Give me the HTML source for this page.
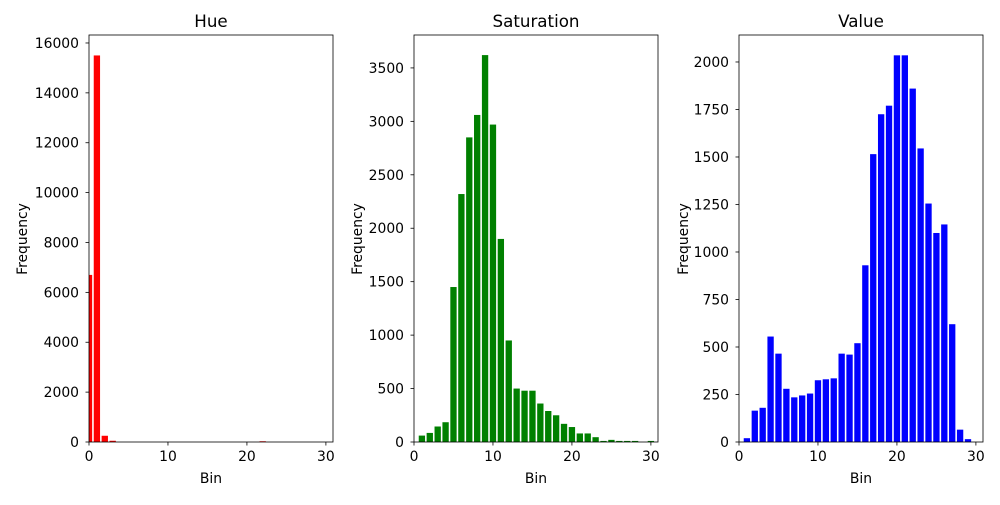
<!DOCTYPE html>
<html><head><meta charset="utf-8"><style>
body{margin:0;background:#fff;}
svg{font-family:"DejaVu Sans","Liberation Sans",sans-serif;}
</style></head><body>
<svg id="c" width="1000" height="500"></svg>
<script>
const bins = Array.from({length:31},(_,i)=>i);
const hueValues = [6700,15500,250,50,0,0,0,0,0,0,0,0,0,0,0,0,0,0,0,0,0,0,30,0,0,0,0,0,0,0,0];
const satValues = [0,60,85,145,185,1450,2320,2850,3060,3620,2970,1900,950,500,480,480,360,290,250,170,140,80,80,45,10,20,10,10,10,0,10];
const valValues = [0,20,165,180,555,465,280,235,245,255,325,330,335,465,460,520,930,1515,1725,1770,2035,2035,1860,1545,1255,1100,1145,620,65,15,0];
const hueTicks = [0,2000,4000,6000,8000,10000,12000,14000,16000];
const satTicks = [0,500,1000,1500,2000,2500,3000,3500];
const valTicks = [0,250,500,750,1000,1250,1500,1750,2000];
const xTicks = [0,10,20,30];
const panels = [
 {name:'hue',title:'Hue',vals:hueValues,ticks:hueTicks,ymax:16320,color:'#ff0000',left:89,ylab:62},
 {name:'saturation',title:'Saturation',vals:satValues,ticks:satTicks,ymax:3808,color:'#008000',left:414,ylab:52},
 {name:'value',title:'Value',vals:valValues,ticks:valTicks,ymax:2142,color:'#0000ff',left:739,ylab:51}
];
const NS='http://www.w3.org/2000/svg', svgEl=document.getElementById('c');
function mk(t,a,p){const e=document.createElementNS(NS,t);for(const k in a)e.setAttribute(k,a[k]);(p||svgEl).appendChild(e);return e;}
const topY=35,bottomY=442,W=244,xmax=30.9;
panels.forEach(p=>{
 const g=mk('g',{});
 
 
 const cp=mk('clipPath',{id:'cp'+p.name},g);mk('rect',{x:p.left,y:topY,width:W,height:bottomY-topY},cp);
 const xs=v=>p.left+v/xmax*W, ys=v=>bottomY-v/p.ymax*(bottomY-topY);
 const bg=mk('g',{'clip-path':'url(#cp'+p.name+')'},g);
 bins.forEach((b,i)=>{const v=p.vals[i];if(!v)return;
  const r=mk('rect',{x:xs(b-0.4),y:ys(v),width:xs(0.8)-xs(0),height:bottomY-ys(v),fill:p.color},bg);
  
  
 });
 const fr=mk('rect',{x:p.left,y:topY,width:W,height:bottomY-topY,fill:'none',stroke:'#000','stroke-width':0.8},g);
 
 
 xTicks.forEach(t=>{const x=xs(t);mk('line',{x1:x,x2:x,y1:bottomY,y2:bottomY+3.5,stroke:'#000','stroke-width':0.8},g);
  const tx=mk('text',{x:x,y:bottomY+19,'font-size':13.9,'text-anchor':'middle'},g);tx.textContent=t;
  
  });
 p.ticks.forEach(t=>{const y=ys(t);mk('line',{x1:p.left-3.5,x2:p.left,y1:y,y2:y,stroke:'#000','stroke-width':0.8},g);
  const tx=mk('text',{x:p.left-10,y:y+5,'font-size':13.9,'text-anchor':'end'},g);tx.textContent=t;
  
  });
 const ti=mk('text',{x:p.left+W/2,y:27,'font-size':16.7,'text-anchor':'middle'},g);ti.textContent=p.title;
 
 
 const xl=mk('text',{x:p.left+W/2,y:483,'font-size':13.9,'text-anchor':'middle'},g);xl.textContent='Bin';
 
 
 const yx=p.left-p.ylab;
 const yl=mk('text',{x:yx,y:239,'font-size':13.9,'text-anchor':'middle',transform:'rotate(-90 '+yx+' 239)'},g);yl.textContent='Frequency';
 
 
});
</script>
</body></html>
